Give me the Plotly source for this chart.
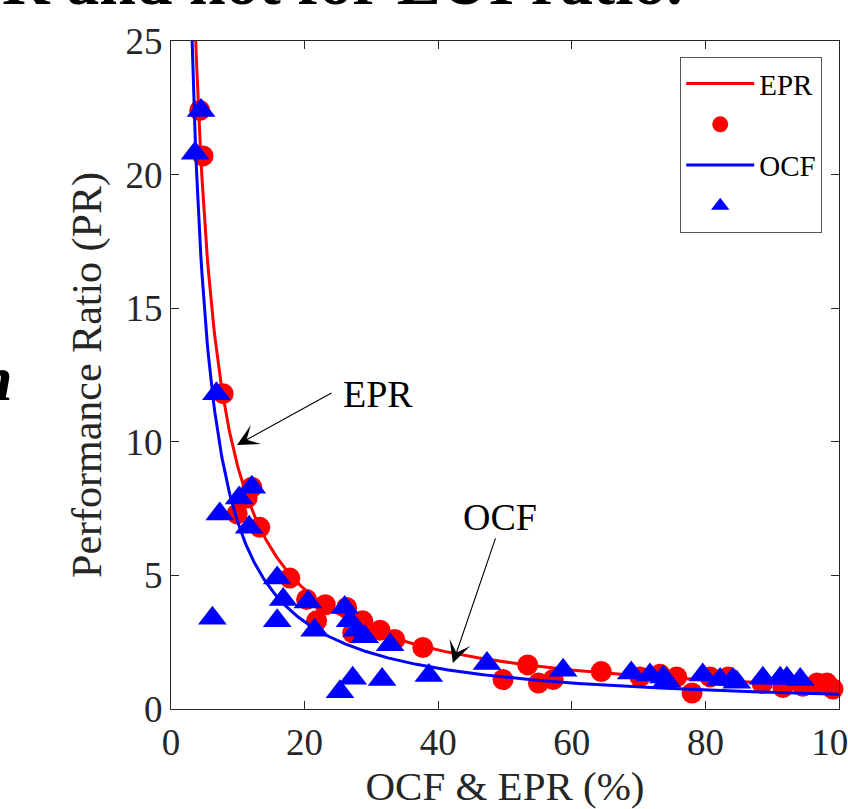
import numpy as np
import plotly.graph_objects as go

# ---- data ----
epr_x = [4.3, 4.8, 7.8, 12.1, 11.4, 9.9, 13.3, 17.8, 20.3, 21.8, 23.1, 26.3, 27.2, 28.7,
         31.3, 33.5, 37.7, 49.7, 53.4, 55.0, 57.2, 64.4, 70.2, 73.2, 75.7, 78.0, 80.7,
         83.4, 88.5, 91.6, 94.6, 96.7, 98.2, 99.1]
epr_y = [22.4, 20.7, 11.8, 8.3, 7.9, 7.3, 6.8, 4.9, 4.1, 3.3, 3.9, 3.8, 2.85, 3.3,
         2.95, 2.6, 2.3, 1.1, 1.65, 0.97, 1.1, 1.4, 1.2, 1.3, 1.2, 0.6, 1.2,
         1.2, 0.95, 0.8, 0.85, 0.97, 0.97, 0.75]

ocf_x = [4.5, 3.6, 6.8, 7.3, 10.2, 12.1, 11.7, 6.2, 15.9, 16.8, 15.9, 20.5, 21.5, 26.0,
         26.8, 27.8, 29.0, 32.8, 25.3, 27.2, 31.6, 38.6, 47.3, 58.7, 68.9, 71.7, 73.7,
         74.2, 79.6, 82.2, 84.1, 84.7, 88.6, 91.2, 92.2, 94.2]
ocf_y = [22.4, 20.8, 11.8, 7.3, 7.9, 8.3, 6.8, 3.4, 4.9, 4.1, 3.3, 4.0, 2.95, 3.8,
         3.3, 2.95, 2.7, 2.4, 0.65, 1.15, 1.1, 1.25, 1.7, 1.45, 1.35, 1.27, 1.2,
         1.05, 1.27, 1.1, 1.1, 1.0, 1.15, 1.15, 1.15, 1.1]

# power-law fit coefficients (y = a * x^b)
epr_fit = (95.0, -1.02)
ocf_fit = (88.0, -1.10)

x_ticks = [0, 20, 40, 60, 80, 100]
y_ticks = [0, 5, 10, 15, 20, 25]

FONT = "Liberation Serif"
AX = "#262626"
BLANK = "\u00a0"

xf = np.linspace(3.0, 100.0, 600)

fig = go.Figure()
fig.add_trace(go.Scatter(x=xf, y=epr_fit[0] * xf ** epr_fit[1], mode="lines",
                         line=dict(color="#ff0000", width=3), name="EPR"))
fig.add_trace(go.Scatter(x=epr_x, y=epr_y, mode="markers", name=BLANK, cliponaxis=False,
                         marker=dict(symbol="circle", size=21, color="#ff0000")))
fig.add_trace(go.Scatter(x=xf, y=ocf_fit[0] * xf ** ocf_fit[1], mode="lines",
                         line=dict(color="#0000ff", width=3), name="OCF"))
fig.add_trace(go.Scatter(x=ocf_x, y=ocf_y, mode="markers", name=BLANK, cliponaxis=False,
                         marker=dict(symbol="triangle-up", size=25, color="#0000ff")))

ann_font = dict(family=FONT, size=38, color="black")
annotations = [
    # EPR arrow
    dict(x=9.88, y=9.88, ax=24.25, ay=11.86, xref="x", yref="y", axref="x", ayref="y",
         text="", showarrow=True, arrowhead=3, arrowsize=3.3, arrowwidth=1.1,
         arrowcolor="black"),
    dict(x=31.0, y=11.8, xref="x", yref="y", text="EPR", showarrow=False, font=ann_font),
    # OCF arrow
    dict(x=42.2, y=1.72, ax=48.65, ay=6.44, xref="x", yref="y", axref="x", ayref="y",
         text="", showarrow=True, arrowhead=3, arrowsize=3.3, arrowwidth=1.1,
         arrowcolor="black"),
    dict(x=49.25, y=7.19, xref="x", yref="y", text="OCF", showarrow=False, font=ann_font),
    # cropped surrounding text
    dict(x=-0.256, y=1.0885, xref="paper", yref="paper", xanchor="left", yanchor="middle",
         text="<b>R and not for EUI ratio.</b>", showarrow=False,
         font=dict(family=FONT, size=66, color="black")),
    dict(x=-0.2335, y=0.4955, xref="paper", yref="paper", xanchor="right", yanchor="middle",
         text="<b><i>n</i></b>", showarrow=False,
         font=dict(family=FONT, size=64, color="black")),
]

axis_common = dict(showline=True, linecolor=AX, linewidth=1.3, mirror="ticks",
                   ticks="inside", ticklen=8, tickcolor=AX, tickwidth=1.2,
                   showgrid=False, zeroline=False, automargin=False,
                   ticklabeloverflow="allow",
                   tickfont=dict(family=FONT, size=37, color=AX))

fig.update_layout(
    width=848, height=809,
    margin=dict(l=171, r=9, t=41, b=100),
    paper_bgcolor="white", plot_bgcolor="white",
    xaxis=dict(range=[0, 100], tickvals=x_ticks, ticktext=[str(v) for v in x_ticks],
               title=dict(text="OCF & EPR (%)", font=dict(family=FONT, size=41, color=AX),
                          standoff=6),
               **axis_common),
    yaxis=dict(range=[0, 25], tickvals=y_ticks, ticktext=[str(v) for v in y_ticks],
               title=dict(text="Performance Ratio (PR)", font=dict(family=FONT, size=42, color=AX),
                          standoff=10),
               **axis_common),
    legend=dict(x=0.9746, y=0.976, xanchor="right", yanchor="top",
                bgcolor="white", bordercolor="#555555", borderwidth=1.2,
                font=dict(family=FONT, size=29, color="black"),
                itemwidth=68, tracegroupgap=0),
    annotations=annotations,
    showlegend=True,
)

fig.write_html("out.html", config={"displayModeBar": False},
               post_script="document.body.style.margin='0';document.body.style.overflow='hidden';")
